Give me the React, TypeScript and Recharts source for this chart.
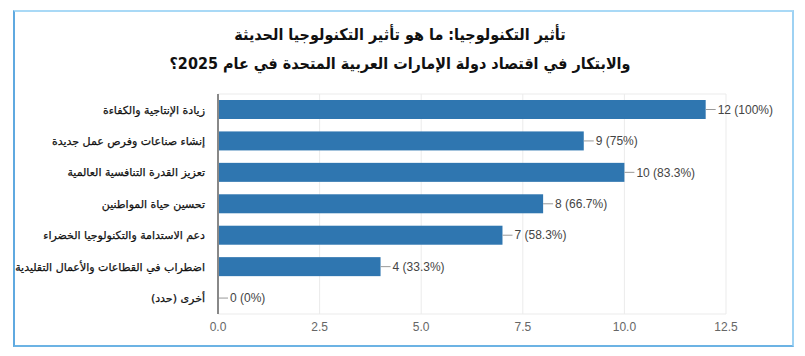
import { Bar, BarChart, CartesianGrid, XAxis, YAxis } from "recharts"

const categories = [
  "زيادة الإنتاجية والكفاءة",
  "إنشاء صناعات وفرص عمل جديدة",
  "تعزيز القدرة التنافسية العالمية",
  "تحسين حياة المواطنين",
  "دعم الاستدامة والتكنولوجيا الخضراء",
  "اضطراب في القطاعات والأعمال التقليدية",
  "أخرى (حدد)",
]
const counts = [12, 9, 10, 8, 7, 4, 0]
const percents = ["100%", "75%", "83.3%", "66.7%", "58.3%", "33.3%", "0%"]
const xTicks = [0, 2.5, 5, 7.5, 10, 12.5]

const TITLE_1 = "تأثير التكنولوجيا: ما هو تأثير التكنولوجيا الحديثة"
const TITLE_2 = "والابتكار في اقتصاد دولة الإمارات العربية المتحدة في عام 2025؟"

const data = categories.map((name, i) => ({
  name,
  value: counts[i],
  label: `${counts[i]} (${percents[i]})`,
}))

const BAR = "#2f76b0"

function CategoryTick(props: any) {
  const { x, y, payload } = props
  return (
    <text
      x={x - 5}
      y={y}
      dy="0.35em"
      textAnchor="start"
      style={{ direction: "rtl", unicodeBidi: "plaintext" } as any}
      fontFamily="DejaVu Sans, sans-serif"
      fontSize={11}
      fill="#111"
      stroke="#111"
      strokeWidth={0.25}
    >
      {payload.value}
    </text>
  )
}

// bar + leader line + value label in one shape so the zero row still gets its label
function BarWithLabel(props: any) {
  const { x, y, width, height, payload } = props
  const end = x + width
  const cy = y + height / 2
  return (
    <g>
      {width > 0 && <rect x={x} y={y} width={width} height={height} fill={BAR} />}
      <line x1={end} y1={cy} x2={end + 10} y2={cy} stroke="#999" strokeWidth={1} />
      <text
        x={end + 12}
        y={cy}
        dy="0.35em"
        fontFamily="Liberation Sans, Arial, sans-serif"
        fontSize={12}
        fill="#444"
      >
        {payload.label}
      </text>
    </g>
  )
}

export default function App() {
  return (
    <div style={{ position: "absolute", left: 0, top: 0, width: 805, height: 356, background: "#fff" }}>
      <div
        style={{
          position: "absolute",
          left: 13,
          top: 10,
          width: 777,
          height: 333,
          borderTop: "2px solid #a9d9f6",
          borderRight: "2px solid #9ed2f3",
          borderBottom: "2px solid #6cb3e4",
          borderLeft: "2px solid #5fa9e0",
        }}
      />
      <div
        dir="rtl"
        style={{
          position: "absolute",
          left: 0,
          top: 20,
          width: 800,
          textAlign: "center",
          fontFamily: "DejaVu Sans Condensed, DejaVu Sans, sans-serif",
          fontWeight: "bold",
          fontSize: 16,
          lineHeight: "29px",
          color: "#111",
        }}
      >
        <div>{TITLE_1}</div>
        <div>{TITLE_2}</div>
      </div>
      <div style={{ position: "absolute", left: 0, top: 0 }}>
        <BarChart
          width={805}
          height={356}
          data={data}
          layout="vertical"
          margin={{ top: 94, right: 79, bottom: 12, left: 0 }}
        >
          <CartesianGrid
            stroke="#ebebeb"
            horizontalCoordinatesGenerator={({ offset }: any) => [offset.top, offset.top + offset.height]}
          />
          <XAxis
            type="number"
            domain={[0, 12.5]}
            ticks={xTicks}
            tickFormatter={(v: number) => v.toFixed(1)}
            axisLine={false}
            tickLine={false}
            tick={{ fill: "#666", fontSize: 12, fontFamily: "Liberation Sans, Arial, sans-serif" }}
            height={30}
          />
          <YAxis
            type="category"
            dataKey="name"
            width={218}
            axisLine={{ stroke: "#888", strokeWidth: 2 }}
            tickLine={false}
            tick={<CategoryTick />}
          />
          <Bar dataKey="value" barSize={19} fill={BAR} isAnimationActive={false} shape={<BarWithLabel />} />
        </BarChart>
      </div>
    </div>
  )
}
